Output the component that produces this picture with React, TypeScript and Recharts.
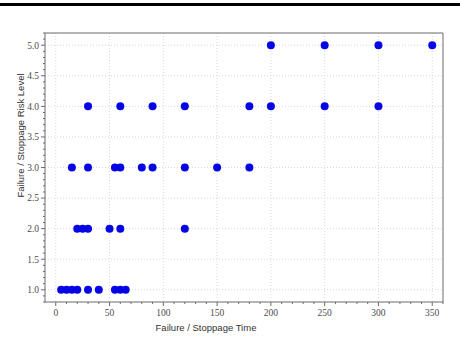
import React from 'react';
import { ScatterChart, Scatter, XAxis, YAxis, CartesianGrid, Label } from 'recharts';

// failure / stoppage times grouped by risk level
const LEVEL_1_TIMES = [5, 10, 15, 20, 30, 40, 55, 60, 65];
const LEVEL_2_TIMES = [20, 25, 30, 50, 60, 120];
const LEVEL_3_TIMES = [15, 30, 55, 60, 80, 90, 120, 150, 180];
const LEVEL_4_TIMES = [30, 60, 90, 120, 180, 200, 250, 300];
const LEVEL_5_TIMES = [200, 250, 300, 350];

const LEVELS = [1, 2, 3, 4, 5];
const TIMES_BY_LEVEL = [LEVEL_1_TIMES, LEVEL_2_TIMES, LEVEL_3_TIMES, LEVEL_4_TIMES, LEVEL_5_TIMES];

const X_TICKS = [0, 50, 100, 150, 200, 250, 300, 350];
const Y_TICKS = [1.0, 1.5, 2.0, 2.5, 3.0, 3.5, 4.0, 4.5, 5.0];
const X_DOMAIN = [-10, 360];
const Y_DOMAIN = [0.8, 5.2];

const X_TITLE = 'Failure / Stoppage Time';
const Y_TITLE = 'Failure / Stoppage Risk Level';

const points = LEVELS.flatMap((level, i) => TIMES_BY_LEVEL[i].map((time) => ({ time, level })));

// minor ticks: every 10 on x, every 0.1 on y
const xMinor: number[] = [];
for (let v = 0; v <= 360; v += 10) xMinor.push(v);
const yMinor: number[] = [];
for (let i = 8; i <= 52; i++) yMinor.push(i / 10);

const FRAME = '#6b6b6b';
const TICK_TEXT = '#4a4a4a';
const DOT = '#0606e4';

const isMajorX = (v: number) => X_TICKS.includes(v);
const isMajorY = (v: number) => Math.abs(v * 2 - Math.round(v * 2)) < 1e-6;

const BottomTick = (props: any) => {
  const { x, y, payload } = props;
  const major = isMajorX(payload.value);
  return (
    <g>
      <line x1={x} x2={x} y1={y} y2={y + (major ? 4 : 2)} stroke={FRAME} />
      {major && (
        <text x={x} y={y + 14} textAnchor="middle" fontSize={9.5} fontFamily="Liberation Serif" fill={TICK_TEXT}>
          {payload.value}
        </text>
      )}
    </g>
  );
};

const LeftTick = (props: any) => {
  const { x, y, payload } = props;
  const major = isMajorY(payload.value);
  return (
    <g>
      <line x1={x} x2={x - (major ? 4 : 2)} y1={y} y2={y} stroke={FRAME} />
      {major && (
        <text x={x - 6} y={y + 3.3} textAnchor="end" fontSize={9.5} fontFamily="Liberation Serif" fill={TICK_TEXT}>
          {payload.value.toFixed(1)}
        </text>
      )}
    </g>
  );
};

const Dot = (props: any) => <circle cx={props.cx} cy={props.cy} r={4} fill={DOT} />;

const App: React.FC = () => {
  return (
    <div style={{ position: 'absolute', left: 0, top: 0, width: 460, height: 349, background: '#fff' }}>
      <div style={{ position: 'absolute', left: 0, top: 3, width: 460, height: 3, background: '#000' }} />
      <ScatterChart width={460} height={349} margin={{ top: 33, right: 17, bottom: 17, left: 0 }}>
        <CartesianGrid
          stroke="#d8d8d8"
          strokeDasharray="1 2"
          verticalValues={X_TICKS}
          horizontalValues={Y_TICKS}
        />
        <XAxis
          type="number"
          dataKey="time"
          domain={X_DOMAIN}
          ticks={xMinor}
          interval={0}
          height={30}
          tickSize={0}
          tickMargin={0}
          tickLine={false}
          axisLine={{ stroke: FRAME }}
          tick={<BottomTick />}
          allowDataOverflow
        >
          <Label
            content={(p: any) => {
              const vb = p.viewBox;
              return (
                <text
                  x={vb.x + vb.width / 2 - 38}
                  y={vb.y + 29}
                  textAnchor="middle"
                  fontSize={9.5}
                  fontFamily="Liberation Sans"
                  fill="#333"
                >
                  {X_TITLE}
                </text>
              );
            }}
          />
        </XAxis>
        <XAxis
          xAxisId="top"
          orientation="top"
          type="number"
          domain={X_DOMAIN}
          ticks={xMinor}
          interval={0}
          mirror
          tickSize={3}
          tick={false}
          tickLine={{ stroke: FRAME }}
          axisLine={{ stroke: FRAME }}
          allowDataOverflow
        />
        <YAxis
          type="number"
          dataKey="level"
          domain={Y_DOMAIN}
          ticks={yMinor}
          interval={0}
          width={45}
          tickSize={0}
          tickMargin={0}
          tickLine={false}
          axisLine={{ stroke: FRAME }}
          tick={<LeftTick />}
          allowDataOverflow
        >
          <Label
            content={(p: any) => {
              const vb = p.viewBox;
              const cx = vb.x + 20;
              const cy = vb.y + vb.height / 2 - 32;
              return (
                <text
                  x={cx}
                  y={cy}
                  transform={`rotate(-90 ${cx} ${cy})`}
                  textAnchor="middle"
                  dominantBaseline="central"
                  fontSize={9.5}
                  fontFamily="Liberation Sans"
                  fill="#333"
                >
                  {Y_TITLE}
                </text>
              );
            }}
          />
        </YAxis>
        <YAxis
          yAxisId="right"
          orientation="right"
          type="number"
          domain={Y_DOMAIN}
          ticks={yMinor}
          interval={0}
          mirror
          tickSize={3}
          tick={false}
          tickLine={{ stroke: FRAME }}
          axisLine={{ stroke: FRAME }}
          allowDataOverflow
        />
        <Scatter data={points} shape={<Dot />} isAnimationActive={false} />
      </ScatterChart>
    </div>
  );
};

export default App;
